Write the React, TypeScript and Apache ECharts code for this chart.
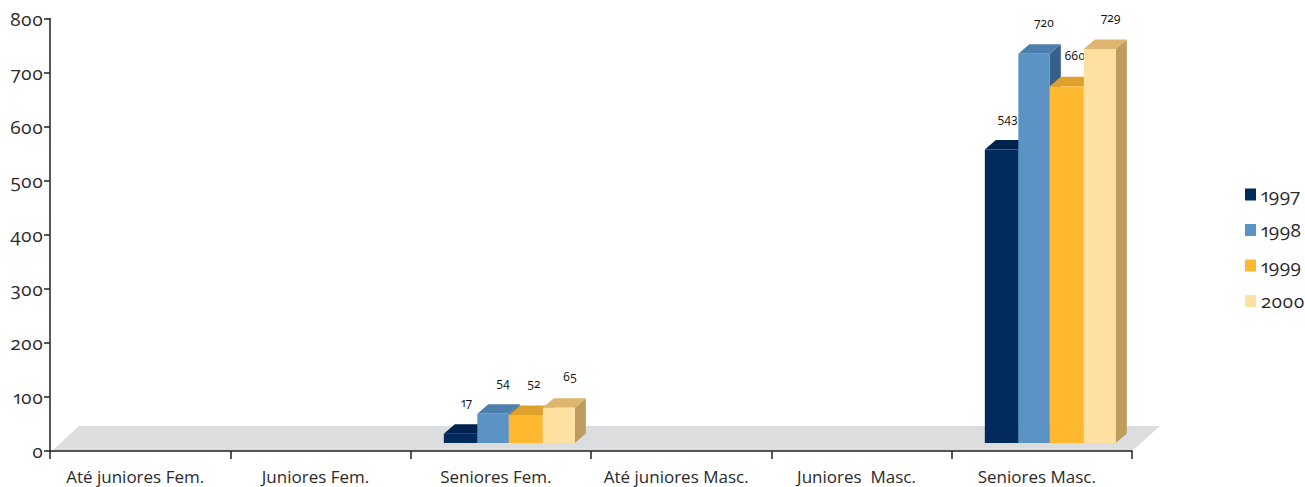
import React, { useEffect, useRef } from "react";
import * as echarts from "echarts";

const categories = ["Até juniores Fem.", "Juniores Fem.", "Seniores Fem.", "Até juniores Masc.", "Juniores  Masc.", "Seniores Masc."];
const yTicks = [0, 100, 200, 300, 400, 500, 600, 700, 800];
const years = ["1997", "1998", "1999", "2000"];
const values1997: (number | null)[] = [null, null, 17, null, null, 543];
const values1998: (number | null)[] = [null, null, 54, null, null, 720];
const values1999: (number | null)[] = [null, null, 52, null, null, 660];
const values2000: (number | null)[] = [null, null, 65, null, null, 729];
const seriesValues = [values1997, values1998, values1999, values2000];

const front = ["#002b5c", "#5a93c4", "#ffb931", "#fee0a0"];
const topFace = ["#00234d", "#4d7fad", "#dea22c", "#deb46e"];
const sideFace = ["#001f45", "#376088", "#c48f28", "#bd9c5e"];

const FONT = '"Open Sans", "Noto Sans", sans-serif';
const INK = "#2b2a2b";
const BAR_EDGES = [-57, -23.5, 8, 42, 74];
const DEPTH_X = 11;
const DEPTH_Y = 9.5;
const FLOOR_LIFT = 8;
const labelDx = [6, 10, 8, 11];

export default function App() {
  const ref = useRef<HTMLDivElement>(null);
  useEffect(() => {
    const chart = echarts.init(ref.current!, undefined, { renderer: "svg" });
    const makeRender = (s: number) => (_p: any, api: any) => {
      const i = api.value(0);
      const v = api.value(1);
      const base = api.coord([i, 0]);
      const top = api.coord([i, v]);
      const x0 = base[0] + BAR_EDGES[s];
      const x1 = base[0] + BAR_EDGES[s + 1];
      const y0 = base[1] - FLOOR_LIFT;
      const y1 = top[1] - FLOOR_LIFT;
      return {
        type: "group",
        children: [
          {
            type: "polygon",
            shape: { points: [[x1, y0], [x1 + DEPTH_X, y0 - DEPTH_Y], [x1 + DEPTH_X, y1 - DEPTH_Y], [x1, y1]] },
            style: { fill: sideFace[s] },
          },
          {
            type: "polygon",
            shape: { points: [[x0, y1], [x0 + DEPTH_X, y1 - DEPTH_Y], [x1 + DEPTH_X, y1 - DEPTH_Y], [x1, y1]] },
            style: { fill: topFace[s] },
          },
          { type: "rect", shape: { x: x0, y: y1, width: x1 - x0, height: y0 - y1 }, style: { fill: front[s] } },
          {
            type: "text",
            x: (x0 + x1) / 2 + labelDx[s],
            y: y1 - 31,
            style: {
              text: String(v),
              fill: "#111111",
              fontFamily: FONT,
              fontSize: 12,
              fontWeight: 400,
              textAlign: "center",
              textVerticalAlign: "middle",
            },
          },
        ],
      };
    };
    chart.setOption({
      animation: false,
      textStyle: { fontFamily: FONT },
      grid: { left: 50, right: 173, top: 18.5, bottom: 36, containLabel: false },
      legend: {
        data: years,
        orient: "vertical",
        left: 1245,
        top: 181,
        padding: 0,
        itemWidth: 11,
        itemHeight: 12,
        itemGap: 8.5,
        selectedMode: false,
        icon: "rect",
        textStyle: { fontFamily: FONT, fontSize: 19, fontWeight: 400, color: INK, padding: [3, 0, 0, 0], lineHeight: 24 },
      },
      graphic: [
        {
          type: "polygon",
          z: -10,
          silent: true,
          shape: { points: [[52, 451], [79, 426], [1160, 426], [1132, 451]] },
          style: { fill: "#dcddde" },
        },
      ],
      xAxis: {
        type: "category",
        data: categories,
        axisLine: { lineStyle: { color: "#231f20", width: 1.5 } },
        axisTick: { show: true, length: 8, alignWithLabel: false, lineStyle: { color: "#231f20", width: 1.5 } },
        axisLabel: { color: INK, fontSize: 17, fontFamily: FONT, margin: 17, padding: [0, 10, 0, 0], interval: 0 },
      },
      yAxis: {
        type: "value",
        min: yTicks[0],
        max: yTicks[yTicks.length - 1],
        interval: 100,
        splitLine: { show: false },
        axisLine: { show: true, lineStyle: { color: "#231f20", width: 1.5 } },
        axisTick: { show: true, length: 6, lineStyle: { color: "#231f20", width: 1.5 } },
        axisLabel: { color: INK, fontSize: 19, fontWeight: 400, fontFamily: FONT, margin: 7, padding: [3, 0, 0, 0] },
      },
      series: seriesValues.map((vals, s) => ({
        name: years[s],
        type: "custom",
        renderItem: makeRender(s),
        itemStyle: { color: front[s] },
        encode: { x: 0, y: 1 },
        clip: false,
        silent: true,
        data: vals.map((v, i) => (v === null ? null : [i, v])).filter(Boolean),
      })),
    });
    return () => chart.dispose();
  }, []);
  return (
    <div
      ref={ref}
      style={{
        position: "absolute",
        left: 0,
        top: 0,
        width: 1305,
        height: 487,
        fontFeatureSettings: '"onum" 1, "pnum" 1',
      }}
    />
  );
}
